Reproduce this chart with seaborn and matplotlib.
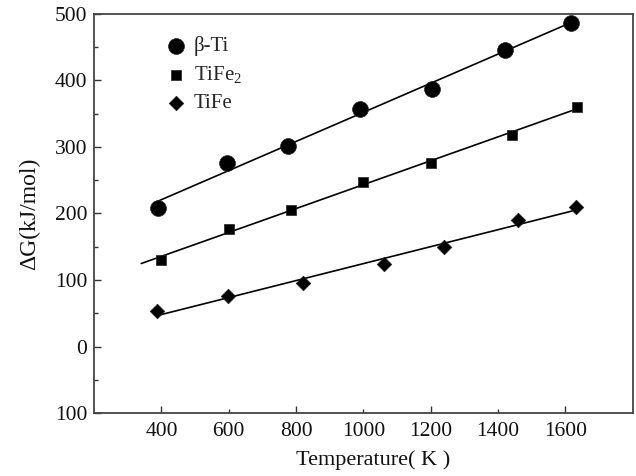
"""
Gibbs energy vs temperature for beta-Ti, TiFe2 and TiFe
"""

# Libraries
import numpy as np
import pandas as pd
import seaborn as sns
import matplotlib as mpl
import matplotlib.pyplot as plt

# -------------------------
# Configuration
# -------------------------
sns.set_style("ticks")

mpl.rcParams['font.family'] = ['Liberation Serif', 'DejaVu Serif']
mpl.rcParams['mathtext.fontset'] = 'custom'
mpl.rcParams['mathtext.rm'] = 'Liberation Serif'
mpl.rcParams['mathtext.it'] = 'Liberation Serif:italic'
mpl.rcParams['xtick.direction'] = 'in'
mpl.rcParams['ytick.direction'] = 'in'

# -------------------------
# Data
# -------------------------
series_names = ['β-Ti', 'TiFe$_2$', 'TiFe']

beta_ti_T = [390, 595, 775, 990, 1205, 1420, 1615]
beta_ti_G = [208, 276, 302, 357, 387, 446, 486]

tife2_T = [398, 600, 785, 1000, 1200, 1440, 1635]
tife2_G = [130, 177, 205, 248, 276, 318, 360]

tife_T = [386, 598, 820, 1060, 1240, 1460, 1632]
tife_G = [53, 76, 96, 124, 149, 190, 210]

# range covered by each fitted line
fit_ranges = [(390, 1615), (340, 1635), (386, 1632)]

# axis ticks and labels
x_major = [400, 800, 1200, 1600]
x_minor = [600, 1000, 1400]
y_ticks = [-100, 0, 100, 200, 300, 400, 500]
y_labels = ['100', '0', '100', '200', '300', '400', '500']

# Build long table
data = pd.concat([
    pd.DataFrame({'T': beta_ti_T, 'dG': beta_ti_G, 'phase': series_names[0]}),
    pd.DataFrame({'T': tife2_T, 'dG': tife2_G, 'phase': series_names[1]}),
    pd.DataFrame({'T': tife_T, 'dG': tife_G, 'phase': series_names[2]}),
])

markers = {series_names[0]: 'o', series_names[1]: 's', series_names[2]: 'D'}
sizes = {series_names[0]: 130, series_names[1]: 50, series_names[2]: 55}

# -------------------------
# Plot
# -------------------------
f, ax = plt.subplots(1, 1, figsize=(6.36, 4.76), dpi=100)
f.subplots_adjust(left=0.148, right=0.995, top=0.971, bottom=0.132)

for name, (x0, x1) in zip(series_names, fit_ranges):
    sub = data[data.phase == name]
    # linear fit line
    k, b = np.polyfit(sub['T'], sub['dG'], 1)
    xs = np.array([x0, x1])
    ax.plot(xs, k * xs + b, color='black', lw=1.2, zorder=2)
    sns.scatterplot(data=sub, x='T', y='dG', marker=markers[name],
                    s=sizes[name], color='black', edgecolor='#222222',
                    linewidth=0.5, label=name, ax=ax, zorder=3)

# Configure axes
ax.set_xlim(200, 1800)
ax.set_ylim(-100, 500)
ax.set_xticks(x_major, labels=[str(v) for v in x_major])
ax.set_xticks(x_minor, labels=[str(v) for v in x_minor], minor=True)
ax.set_yticks(y_ticks, labels=y_labels)
ax.set_yticks([v + 50 for v in y_ticks[:-1]], minor=True)

ax.tick_params(which='major', length=5, width=1, color='#333333',
               labelsize=15.5, labelcolor='#111111', pad=6)
ax.tick_params(which='minor', length=3, width=1, color='#333333',
               labelsize=15.5, labelcolor='#111111', pad=6)
ax.tick_params(axis='y', which='both', pad=5)

for sp in ax.spines.values():
    sp.set_color('#444444')
    sp.set_linewidth(1.3)

ax.set_xlabel('Temperature( K )', fontsize=16, color='#111111')
ax.set_ylabel('ΔG(kJ/mol)', fontsize=17, color='#111111')
ax.xaxis.set_label_coords(0.518, -0.093)
ax.yaxis.set_label_coords(-0.10, 0.5)

# Legend
ax.legend(loc='upper left', bbox_to_anchor=(0.114, 0.965), frameon=False,
          fontsize=15, handlelength=1.2, handletextpad=0.25,
          labelspacing=0.4, borderaxespad=0)

plt.savefig('out.png', dpi=100)
